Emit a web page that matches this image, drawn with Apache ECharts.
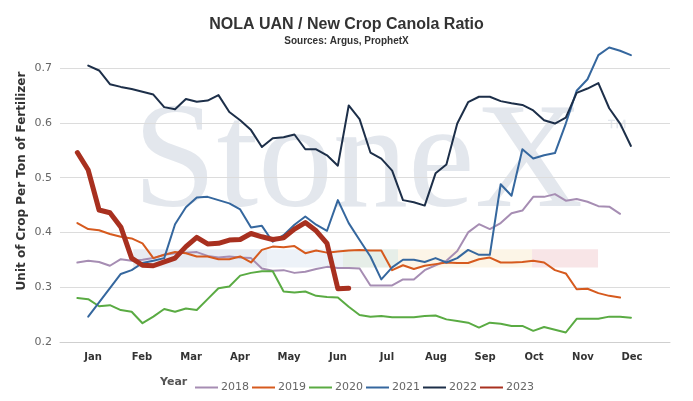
<!DOCTYPE html>
<html>
<head>
<meta charset="utf-8">
<script src="https://cdn.jsdelivr.net/npm/echarts@6/dist/echarts.min.js"></script>
<style>html,body{margin:0;padding:0;background:#fff}#c{width:693px;height:401px}</style>
</head>
<body>
<div id="c"></div>
<script>
// ---- data (weekly values, x = week number) ----
const monthLabels = ['Jan','Feb','Mar','Apr','May','Jun','Jul','Aug','Sep','Oct','Nov','Dec'];
const years = ['2018','2019','2020','2021','2022','2023'];
const startWeek = {'2018':1,'2019':1,'2020':1,'2021':2,'2022':2,'2023':1};

const y2018 = [0.345,0.348,0.346,0.339,0.351,0.348,0.350,0.353,0.359,0.362,0.363,0.364,0.357,0.354,0.356,0.354,0.353,0.334,0.330,0.331,0.326,0.328,0.333,0.337,0.335,0.335,0.334,0.303,0.303,0.303,0.314,0.314,0.331,0.340,0.348,0.366,0.400,0.415,0.406,0.417,0.435,0.440,0.465,0.465,0.470,0.458,0.461,0.456,0.448,0.447,0.434];
const y2019 = [0.417,0.406,0.404,0.397,0.392,0.389,0.380,0.353,0.359,0.364,0.362,0.356,0.356,0.351,0.351,0.356,0.345,0.368,0.374,0.373,0.375,0.362,0.367,0.363,0.365,0.367,0.368,0.367,0.367,0.331,0.340,0.333,0.339,0.342,0.345,0.344,0.344,0.351,0.354,0.345,0.345,0.346,0.348,0.345,0.331,0.325,0.296,0.297,0.289,0.284,0.281];
const y2020 = [0.280,0.278,0.265,0.267,0.258,0.255,0.234,0.246,0.260,0.255,0.261,0.258,0.278,0.298,0.301,0.321,0.326,0.329,0.329,0.292,0.290,0.292,0.284,0.282,0.281,0.264,0.249,0.246,0.247,0.245,0.245,0.245,0.247,0.248,0.241,0.238,0.235,0.226,0.235,0.233,0.229,0.229,0.220,0.227,0.222,0.217,0.242,0.242,0.242,0.246,0.246,0.244];
const y2021 = [0.246,0.272,0.298,0.324,0.331,0.344,0.348,0.353,0.415,0.446,0.464,0.465,0.459,0.453,0.442,0.409,0.412,0.383,0.395,0.414,0.429,0.414,0.403,0.459,0.417,0.386,0.356,0.314,0.336,0.350,0.350,0.346,0.353,0.345,0.353,0.368,0.359,0.359,0.488,0.467,0.552,0.535,0.541,0.545,0.599,0.659,0.680,0.724,0.738,0.732,0.724];
const y2022 = [0.705,0.696,0.671,0.666,0.662,0.657,0.652,0.629,0.625,0.644,0.639,0.641,0.651,0.620,0.605,0.587,0.556,0.572,0.574,0.579,0.552,0.552,0.541,0.522,0.632,0.607,0.546,0.535,0.513,0.459,0.455,0.449,0.508,0.524,0.599,0.638,0.648,0.648,0.640,0.636,0.633,0.623,0.605,0.599,0.610,0.655,0.663,0.673,0.627,0.599,0.558];
const y2023 = [0.546,0.514,0.441,0.436,0.410,0.353,0.340,0.339,0.346,0.353,0.374,0.391,0.379,0.380,0.386,0.387,0.398,0.392,0.387,0.390,0.406,0.418,0.403,0.380,0.297,0.298];

const yTicks = [0.2,0.3,0.4,0.5,0.6,0.7];
// shaded bands: [fromWeek, toWeek, low, high]
const bands = [[6.15,18.47,0.336,0.369],[18.47,25.47,0.336,0.369],[25.47,30.54,0.336,0.369],[30.54,42.89,0.336,0.369],[42.89,48.97,0.336,0.369]];

const valuesByYear = {'2018':y2018,'2019':y2019,'2020':y2020,'2021':y2021,'2022':y2022,'2023':y2023};
const colors = {'2018':'#a68db3','2019':'#d65a1e','2020':'#5aab43','2021':'#35679e','2022':'#1d2f49','2023':'#a8301f'};
const bandColors = ['#e7ebf2','#edf2f8','#e6eee8','#fcf5e7','#f8e5e7'];

const series = years.map(y => ({
  name: y,
  type: 'line',
  xAxisIndex: 0, yAxisIndex: 0,
  data: valuesByYear[y].map((v,i) => [startWeek[y]+i, v]),
  symbol: 'none',
  clip: false,
  z: y === '2023' ? 6 : 3,
  lineStyle: {color: colors[y], width: y === '2023' ? 5 : 2, join: 'round', cap: 'round'},
  itemStyle: {color: colors[y]}
}));
series.unshift({
  name: 'bands', type: 'line', data: [], xAxisIndex: 0, yAxisIndex: 0, z: 1,
  markArea: {
    silent: true,
    data: bands.map((b,i) => [{xAxis:b[0], yAxis:b[2], itemStyle:{color:bandColors[i]}}, {xAxis:b[1], yAxis:b[3]}])
  }
});

const chart = echarts.init(document.getElementById('c'), null, {renderer:'canvas'});
chart.setOption({
  animation: false,
  backgroundColor: '#fff',
  title: {
    text: 'NOLA UAN / New Crop Canola Ratio',
    subtext: 'Sources: Argus, ProphetX',
    left: 'center', top: 11, itemGap: 1,
    textStyle: {fontFamily:'Liberation Sans', fontWeight:'bold', fontSize:16, color:'#333', lineHeight:18},
    subtextStyle: {fontFamily:'Liberation Sans', fontWeight:'bold', fontSize:10, color:'#333', lineHeight:12}
  },
  graphic: [
    {type:'text', z:-10, silent:true, left:133, top:92,
     style:{text:'StoneX', font:'150px "Liberation Serif"', fill:'#e3e7ed'}},
    {type:'text', z:-10, silent:true, left:606, top:118,
     style:{text:'™', font:'22px "Liberation Sans"', fill:'#e3e7ed'}},
    {type:'text', silent:true, x:22, y:181, rotation:Math.PI/2,
     style:{text:'Unit of Crop Per Ton of Fertilizer', font:'bold 12px "DejaVu Sans"', fill:'#333', align:'center', verticalAlign:'middle'}},
    {type:'text', silent:true, left:160, top:377,
     style:{text:'Year', font:'bold 11px "DejaVu Sans"', fill:'#555'}}
  ],
  legend: {
    data: years, left: 190, top: 377, itemWidth: 23, itemHeight: 2, itemGap: 3, icon: 'rect',
    textStyle: {fontFamily:'DejaVu Sans', fontSize:11, color:'#666', padding:[0,0,0,-2]}
  },
  grid: [
    {left:60, right:23, top:68.3, bottom:59.2, containLabel:false},
    {left:68.5, right:36.5, top:68.3, bottom:59.2, containLabel:false}
  ],
  xAxis: [
    {type:'value', gridIndex:0, min:-0.6, max:55.6, axisLabel:{show:false}, axisTick:{show:false},
     splitLine:{show:false}, axisLine:{show:true, lineStyle:{color:'#cfcfcf', width:1}}},
    {type:'category', gridIndex:1, data: monthLabels, boundaryGap:true,
     axisLine:{show:false}, axisTick:{show:false}, splitLine:{show:false},
     axisLabel:{fontFamily:'DejaVu Sans', fontWeight:'bold', fontSize:10, color:'#333', margin:11, interval:0}}
  ],
  yAxis: [
    {type:'value', gridIndex:0, min:yTicks[0], max:yTicks[yTicks.length-1], interval:0.1,
     axisLine:{show:false}, axisTick:{show:false},
     axisLabel:{formatter:v=>v.toFixed(1), fontFamily:'DejaVu Sans', fontSize:11, color:'#666', margin:8},
     splitLine:{lineStyle:{color:'#dcdcdc', width:1}}},
    {type:'value', gridIndex:1, show:false, min:0, max:1}
  ],
  series: series
});
</script>
</body>
</html>
